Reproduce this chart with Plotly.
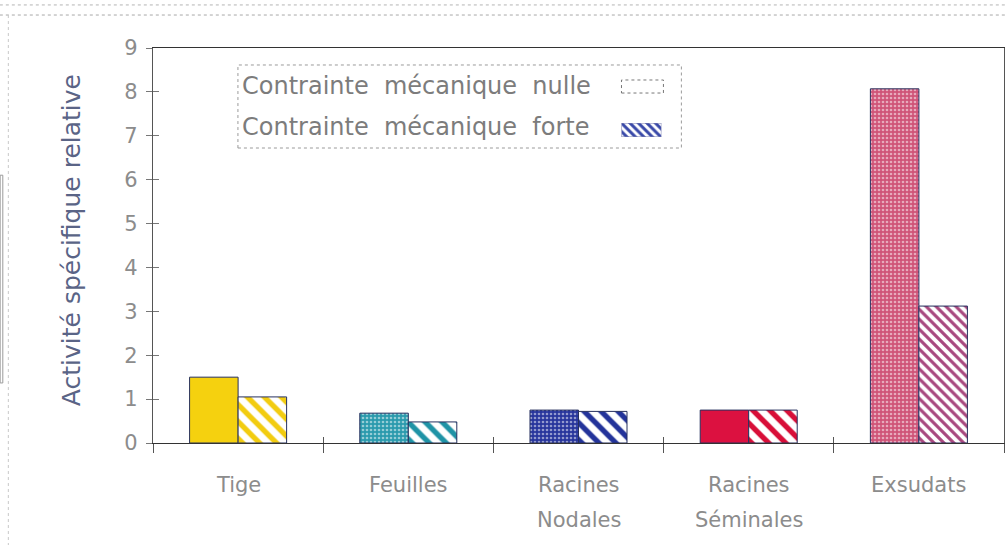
import plotly.graph_objects as go

# Data
categories = ["Tige", "Feuilles", "Racines Nodales", "Racines Séminales", "Exsudats"]
label_line1 = ["Tige", "Feuilles", "Racines", "Racines", "Exsudats"]
label_line2 = ["", "", "Nodales", "Séminales", ""]
nulle = [1.50, 0.68, 0.75, 0.75, 8.07]
forte = [1.05, 0.48, 0.72, 0.75, 3.12]
y_ticks = [0, 1, 2, 3, 4, 5, 6, 7, 8, 9]
legend_labels = ["Contrainte mécanique nulle", "Contrainte mécanique forte"]

# Per-category colours: base fill plus light speckles for the "nulle" bars
solid_base = ["#f5d10f", "#2a9aad", "#27359c", "#dc1140", "#cf5478"]
speckle = ["#f5d10f", "#b4e2e6", "#8c98da", "#dc1140", "#f2c4d3"]
solid_shape = ["", ".", ".", "", "."]
stripe_fg = ["#f2cc10", "#1f93a6", "#23339a", "#d80e38", "#a8487f"]
stripe_size = [12, 12, 12, 12, 7]

FONT = "DejaVu Sans"
GREY = "#8c8c8c"
EDGE = "#26305e"

fig = go.Figure()

fig.add_trace(go.Bar(
    x=categories, y=nulle, name=legend_labels[0], showlegend=False,
    marker=dict(
        color=solid_base,
        line=dict(color=EDGE, width=1),
        pattern=dict(shape=solid_shape, fgcolor=speckle,
                     size=4, solidity=0.35, fillmode="overlay"),
    ),
))
fig.add_trace(go.Bar(
    x=categories, y=forte, name=legend_labels[1], showlegend=False,
    marker=dict(
        color="white",
        line=dict(color=EDGE, width=1),
        pattern=dict(shape="\\", fgcolor=stripe_fg, bgcolor="white",
                     size=stripe_size, solidity=0.45, fillmode="replace"),
    ),
))

# Hatched swatch of the legend, drawn as a tiny bar on its own axes
fig.add_trace(go.Bar(
    x=[0.5], y=[1], width=[1], xaxis="x3", yaxis="y3", showlegend=False,
    hoverinfo="skip",
    marker=dict(
        color="white", line=dict(color="#7a7fb0", width=1),
        pattern=dict(shape="\\", fgcolor="#3848a8", bgcolor="white",
                     size=6, solidity=0.5, fillmode="replace"),
    ),
))

fig.update_layout(
    width=1007, height=545,
    margin=dict(l=153, r=3, t=48, b=102),
    paper_bgcolor="white", plot_bgcolor="white",
    bargap=0.43, bargroupgap=0,
    font=dict(family=FONT, color=GREY),
    xaxis=dict(
        type="category", categoryorder="array", categoryarray=categories,
        range=[-0.5, 4.5], showticklabels=False,
        ticks="outside", tickson="boundaries", ticklen=9, tickcolor="#555",
        showline=True, linecolor="#333", linewidth=1.2, mirror=True,
        showgrid=False, zeroline=False,
    ),
    xaxis2=dict(
        overlaying="x", range=[-0.5, 4.5], tickmode="array",
        tickvals=[0.5, 1.5, 2.5, 3.5], ticks="inside", ticklen=6,
        tickcolor="#555", showticklabels=False, showgrid=False,
        zeroline=False, showline=False,
    ),
    yaxis=dict(
        range=[0, 9], tickmode="array", tickvals=y_ticks,
        ticks="outside", ticklen=6, tickcolor="#777",
        tickfont=dict(size=21, color=GREY, family=FONT),
        ticklabelstandoff=4,
        showline=True, linecolor="#555", linewidth=1.2, mirror=True,
        showgrid=False, zeroline=False,
    ),
    yaxis2=dict(
        overlaying="y", range=[0, 9], tickmode="array", tickvals=y_ticks,
        ticks="inside", ticklen=6, tickcolor="#777", showticklabels=False,
        showgrid=False, zeroline=False, showline=False,
    ),
    xaxis3=dict(domain=[0.5505, 0.5974], range=[0, 1], visible=False,
                anchor="y3", fixedrange=True),
    yaxis3=dict(domain=[0.7747, 0.8101], range=[0, 1], visible=False,
                anchor="x3", fixedrange=True),
)

# Keep the overlay axes visible even without traces
fig.add_trace(go.Scatter(x=[None], y=[None], xaxis="x2", yaxis="y2",
                         showlegend=False, hoverinfo="skip"))

# Category labels, two lines with generous spacing
for cat, l1, l2 in zip(categories, label_line1, label_line2):
    fig.add_annotation(x=cat, y=0, xref="x", yref="paper", text=l1,
                       showarrow=False, yanchor="middle", yshift=-42,
                       font=dict(size=21, color=GREY, family=FONT))
    if l2:
        fig.add_annotation(x=cat, y=0, xref="x", yref="paper", text=l2,
                           showarrow=False, yanchor="middle", yshift=-77,
                           font=dict(size=21, color=GREY, family=FONT))

# Y axis title
fig.add_annotation(x=-0.095, y=0.514, xref="paper", yref="paper",
                   text="Activité spécifique relative", textangle=-90,
                   showarrow=False, xanchor="center", yanchor="middle",
                   font=dict(size=25, color="#5a6486", family=FONT))

# Legend box with labels and right-hand swatches
fig.add_shape(type="rect", xref="paper", yref="paper",
              x0=0.0998, x1=0.6209, y0=0.7468, y1=0.9570,
              line=dict(color="#9a9a9a", width=1, dash="dot"),
              fillcolor="rgba(0,0,0,0)")
fig.add_shape(type="rect", xref="paper", yref="paper",
              x0=0.5505, x1=0.5998, y0=0.886, y1=0.919,
              line=dict(color="#777", width=1, dash="dot"),
              fillcolor="white")
for label, ypos in zip(legend_labels, [0.9038, 0.80]):
    fig.add_annotation(x=0.1021, y=ypos, xref="paper", yref="paper",
                       text=label.replace(" ", "\u00a0\u00a0"),
                       showarrow=False, xanchor="left", yanchor="middle",
                       font=dict(size=24, color="#7c7c7c", family=FONT))

# Outer frame lines of the page
fig.add_shape(type="line", xref="paper", yref="paper",
              x0=-0.18, x1=1.003, y0=1.109, y1=1.109,
              line=dict(color="#b5b5b5", width=1, dash="dot"))
fig.add_shape(type="line", xref="paper", yref="paper",
              x0=-0.18, x1=1.003, y0=1.0835, y1=1.0835,
              line=dict(color="#a8a8a8", width=1, dash="dot"))
fig.add_shape(type="line", xref="paper", yref="paper",
              x0=-0.170, x1=-0.170, y0=1.0835, y1=-0.26,
              line=dict(color="#c8c8c8", width=1, dash="dot"))
fig.add_shape(type="rect", xref="paper", yref="paper",
              x0=-0.1796, x1=-0.1765, y0=0.152, y1=0.678,
              line=dict(color="#9a9a9a", width=1), fillcolor="rgba(0,0,0,0)")

fig.write_html("out.html")
